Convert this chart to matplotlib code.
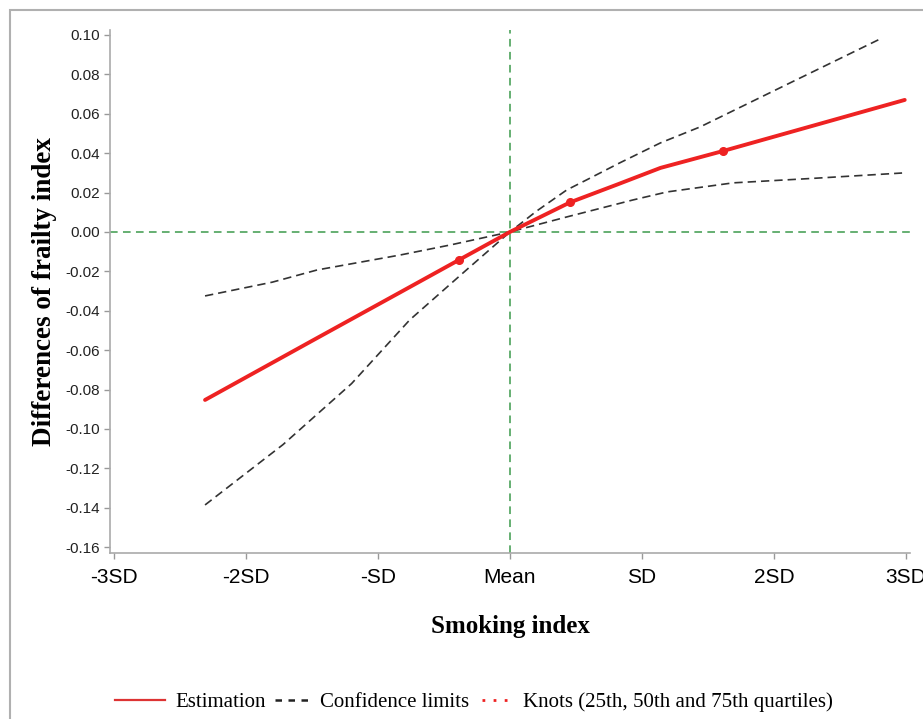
import numpy as np
import matplotlib
matplotlib.use("Agg")
import matplotlib.pyplot as plt
from matplotlib.lines import Line2D
from matplotlib.patches import Rectangle
from matplotlib.legend_handler import HandlerLine2D

# x values are in SD units of the smoking index
est_x = [-2.31, -1.5, -0.83, -0.386, 0.0, 0.455, 0.81, 1.14, 1.61, 2.3, 2.99]
est_y = [-0.0853, -0.0553, -0.0306, -0.0142, 0.0, 0.0150, 0.0240, 0.0325, 0.0410, 0.0540, 0.0670]

upper_x = [-2.31, -1.8, -1.46, -0.83, -0.45, 0.0, 0.2, 0.43, 0.58, 0.83, 1.14, 1.44, 2.12, 2.79]
upper_y = [-0.0325, -0.0255, -0.0193, -0.0117, -0.0066, 0.0, 0.0105, 0.0213, 0.0264, 0.0350, 0.0452, 0.0533, 0.0756, 0.0975]

lower_x = [-2.31, -1.72, -1.2, -0.76, -0.33, 0.0, 0.43, 0.93, 1.19, 1.69, 2.3, 2.97]
lower_y = [-0.1386, -0.1080, -0.0770, -0.0447, -0.0193, 0.0, 0.0076, 0.0162, 0.0203, 0.0249, 0.0272, 0.0299]

knot_x = [-0.386, 0.455, 1.61]
knot_y = [-0.0142, 0.0150, 0.0410]

xtick_pos = [-3, -2, -1, 0, 1, 2, 3]
xtick_lab = ["-3SD", "-2SD", "-SD", "Mean", "SD", "2SD", "3SD"]
ytick_pos = np.round(np.arange(-0.16, 0.101, 0.02), 2)
ytick_lab = ["%.2f" % v if abs(v) > 1e-9 else "0.00" for v in ytick_pos]


class ShortLine(HandlerLine2D):
    # legend handle drawn over only part of the handle box
    def __init__(self, frac=1.0, **kw):
        super().__init__(**kw)
        self.frac = frac

    def get_xdata(self, legend, xdescent, ydescent, width, height, fontsize):
        xd, xm = super().get_xdata(legend, xdescent, ydescent, width, height, fontsize)
        xd = np.array(xd)
        x1 = xd[-1]
        x0 = x1 - (x1 - xd[0]) * self.frac
        return np.array([x0, x1]), xm


fig = plt.figure(figsize=(9.23, 7.19), dpi=100)
ax = fig.add_axes([110/923, 1-553/719, 800/923, 523/719])

ax.axhline(0, color="#3c9a4c", lw=1.1, dashes=(5, 3.5), zorder=1)
ax.axvline(0, color="#3c9a4c", lw=1.1, dashes=(5, 3.5), zorder=1)

ax.plot(upper_x, upper_y, color="#333333", lw=1.2, dashes=(5, 3), zorder=2)
ax.plot(lower_x, lower_y, color="#333333", lw=1.2, dashes=(5, 3), zorder=2)
ax.plot(est_x, est_y, color="#ee2222", lw=2.8, solid_capstyle="round", zorder=3)
ax.plot(knot_x, knot_y, "o", color="#ee2222", ms=5.5, zorder=4)

ax.set_xlim(-3.03, 3.03)
ax.set_ylim(-0.163, 0.1025)
ax.set_xticks(xtick_pos)
ax.set_xticklabels(xtick_lab, fontsize=15, family="Liberation Sans")
ax.set_yticks(ytick_pos)
ax.set_yticklabels(ytick_lab, fontsize=11, family="Liberation Sans", color="#222222")
ax.tick_params(axis="both", color="#999999", length=4, width=1)
ax.tick_params(axis="x", pad=7)

for s in ["top", "right"]:
    ax.spines[s].set_visible(False)
for s in ["left", "bottom"]:
    ax.spines[s].set_color("#aaaaaa")
    ax.spines[s].set_linewidth(1.2)

ax.set_xlabel("Smoking index", family="Liberation Serif", fontweight="bold", fontsize=18, labelpad=20)
ax.set_ylabel("Differences of frailty index", family="Liberation Serif", fontweight="bold", fontsize=19.5, labelpad=6)

h_est = Line2D([], [], color="#dd3333", lw=1.6)
h_ci = Line2D([], [], color="#222222", lw=1.8, dashes=(2.6, 2.6))
h_knot = Line2D([], [], color="#ee2222", lw=2, dashes=(1, 3))
labels = ["Estimation", "Confidence limits", "Knots (25th, 50th and 75th quartiles)"]
leg = fig.legend([h_est, h_ci, h_knot], labels, loc="center", bbox_to_anchor=(474/923, 1-702/719), ncol=3,
                 frameon=False, prop={"family": "Liberation Serif", "size": 15},
                 handlelength=2.4, columnspacing=-0.3, handletextpad=0.5,
                 handler_map={h_ci: ShortLine(0.7), h_knot: ShortLine(0.62)})

fig.patches.append(Rectangle((10/923, -0.5), 2, 1.5 - 10/719, transform=fig.transFigure,
                             fill=False, edgecolor="#b0b0b0", lw=1.5))

plt.savefig("out.png", dpi=100)
